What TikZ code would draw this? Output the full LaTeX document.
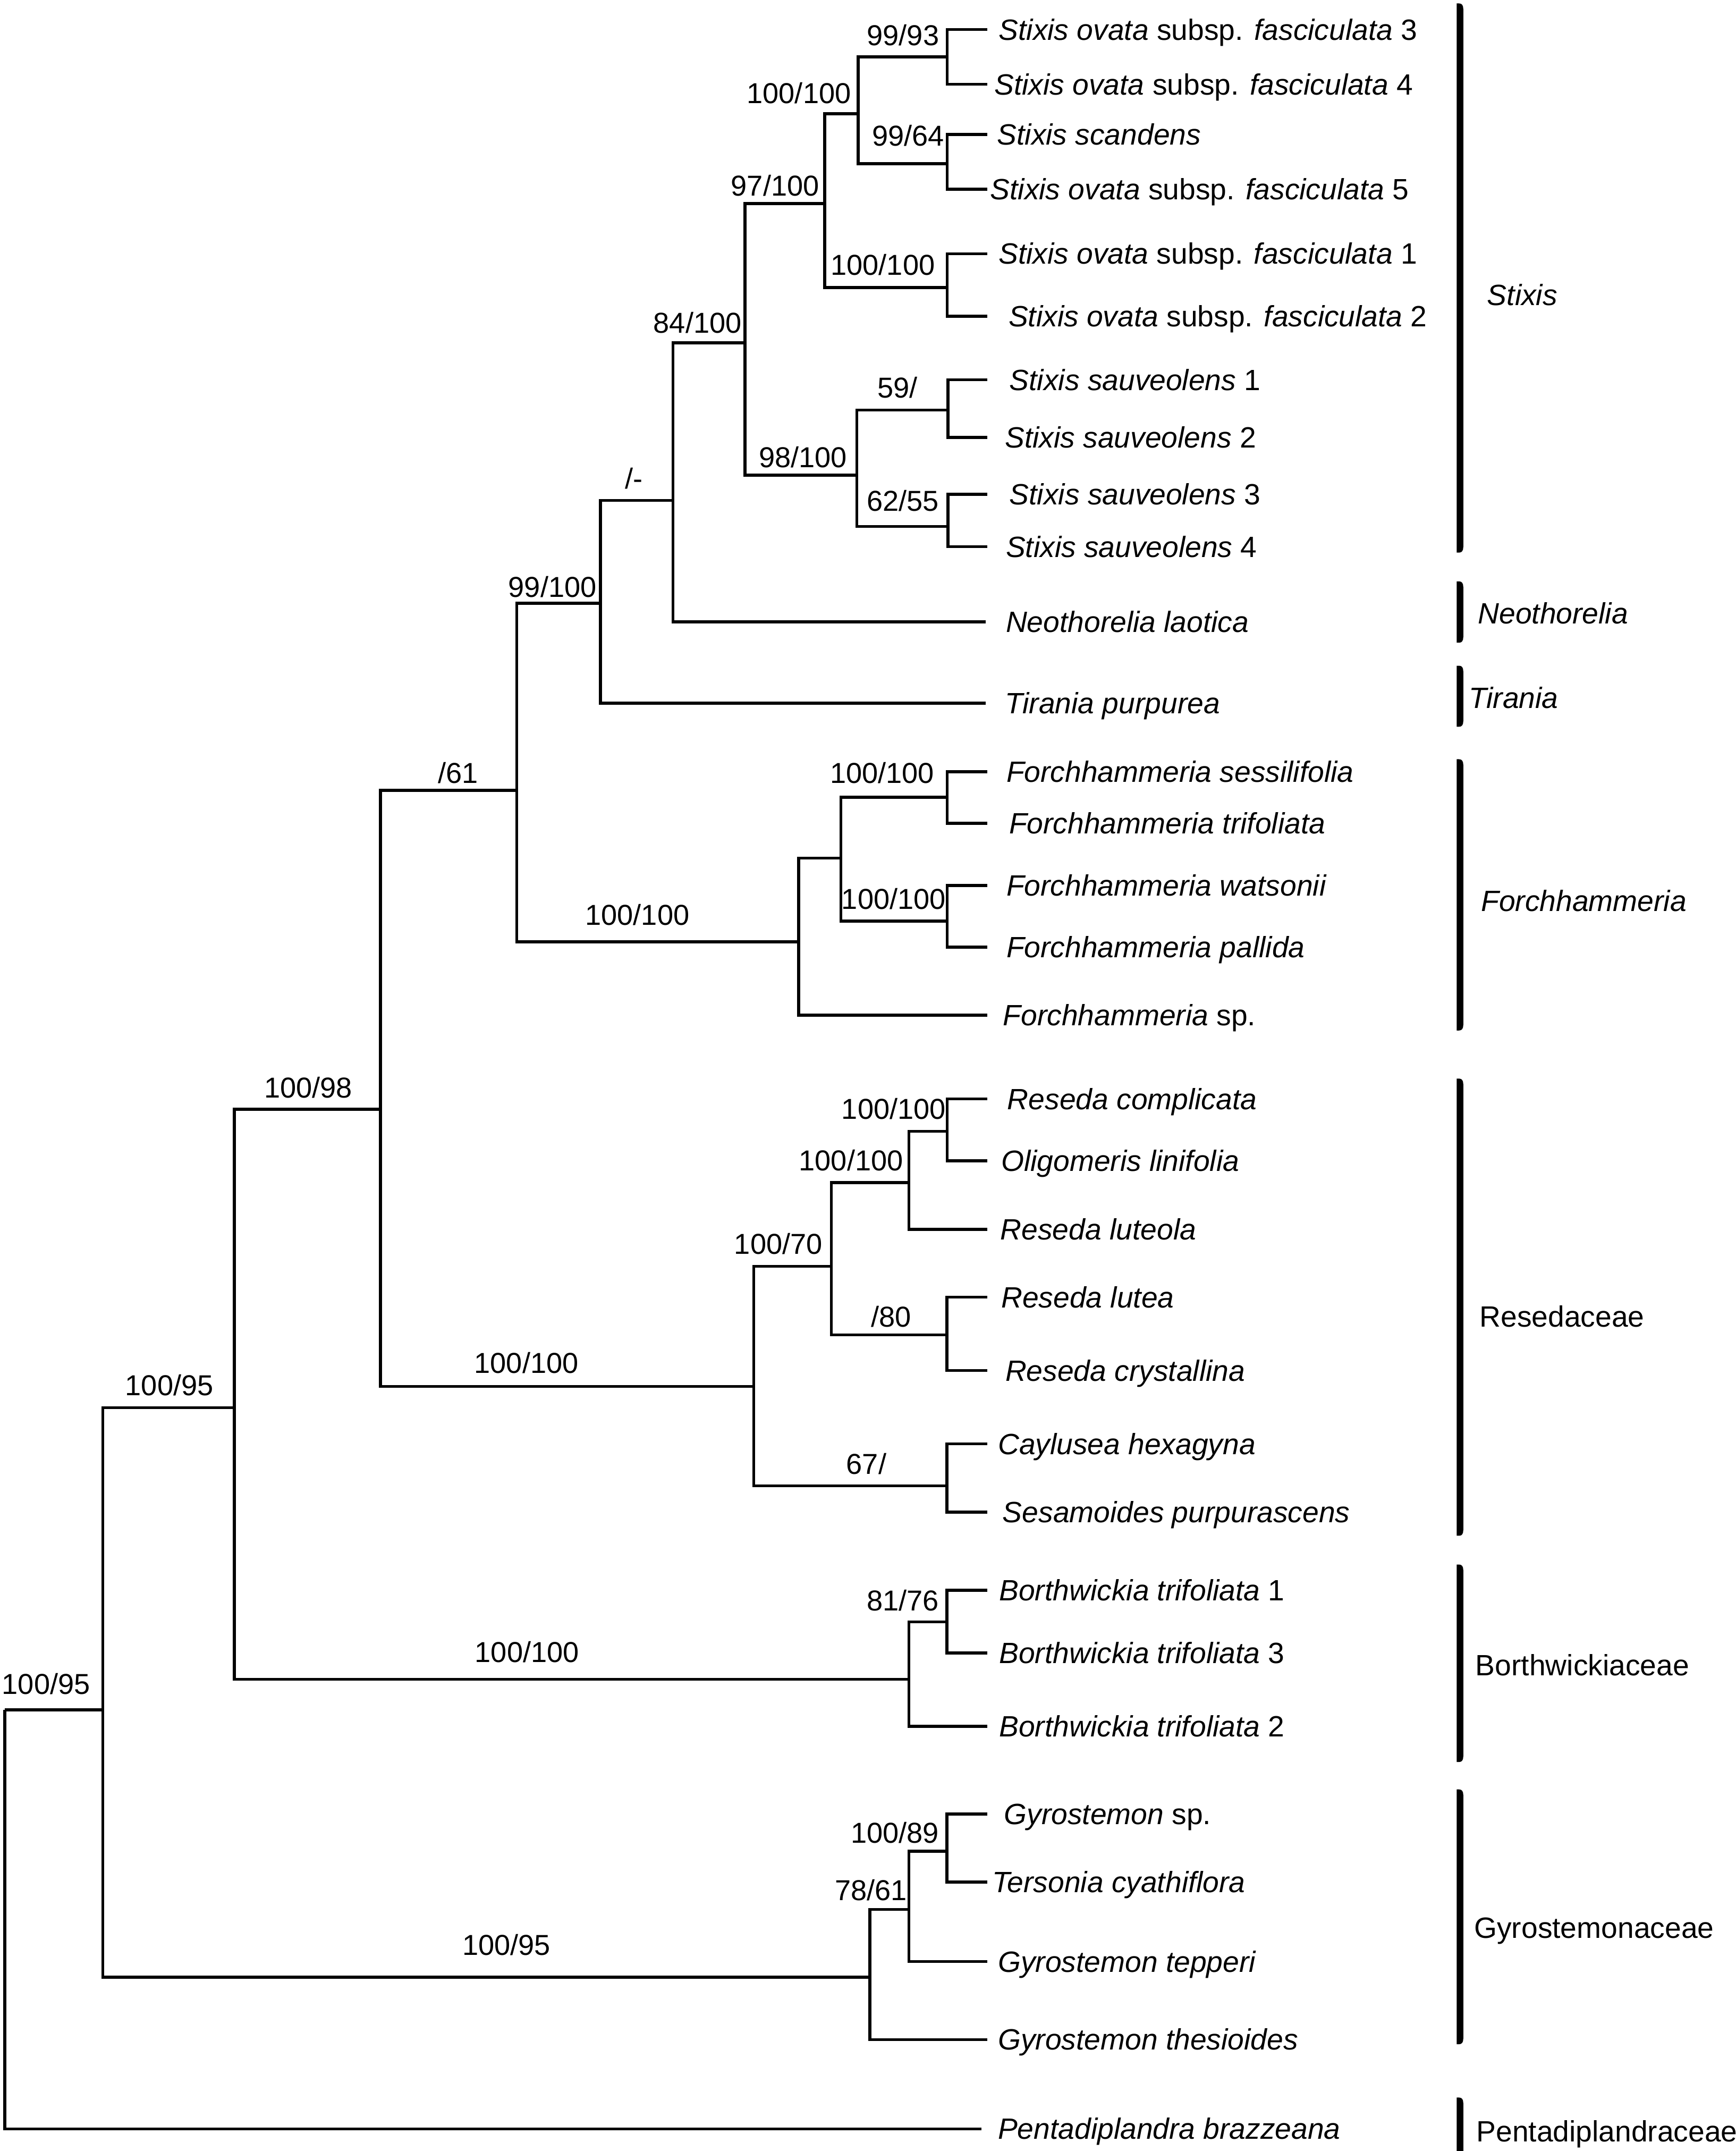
\documentclass[tikz,border=0pt]{standalone}
\usepackage{fontspec}
\setmainfont{Liberation Sans}
\newcommand\cladebar[2]{\fill (1062.6,#1) -- (1064.4,#1) .. controls (1066.4,#1) and (1067.4,#1+1.5) .. (1067.4,#1+4) -- (1067.4,#2-4) .. controls (1067.4,#2-1.5) and (1066.4,#2) .. (1064.4,#2) -- (1062.6,#2) -- cycle;}
\begin{document}
\begin{tikzpicture}[x=0.5pt,y=-0.5pt,
  br/.style={line width=1.05pt, line join=miter},
  taxon/.style={anchor=base west, inner sep=0pt, font=\fontsize{10.7}{12}\selectfont},
  supp/.style={anchor=base, inner sep=0pt, font=\fontsize{10.5}{12}\selectfont},
  clade/.style={anchor=base west, inner sep=0pt, font=\fontsize{10.7}{12}\selectfont}]
\useasboundingbox (0,0) rectangle (1266,1568.7);
% internal nodes
\coordinate (R0) at (3.5,1247);
\coordinate (A) at (75,1247);
\coordinate (B) at (171,1026.5);
\coordinate (C) at (277.6,809);
\coordinate (D) at (376.9,576.4);
\coordinate (E) at (438,440);
\coordinate (H) at (491,365);
\coordinate (I) at (543.5,250);
\coordinate (J) at (601.6,148.5);
\coordinate (L) at (626,83);
\coordinate (N1) at (691,41.5);
\coordinate (N2) at (691,119.4);
\coordinate (M) at (691,209.7);
\coordinate (K) at (625,346.5);
\coordinate (K1) at (691.5,299);
\coordinate (K2) at (691.5,384);
\coordinate (F1) at (582.6,686.8);
\coordinate (F2) at (613.3,625.7);
\coordinate (F3) at (691,581.4);
\coordinate (F4) at (691,671.7);
\coordinate (Q1) at (549.8,1011);
\coordinate (Q2) at (606.4,923.6);
\coordinate (Q3) at (663,862.5);
\coordinate (Q4) at (691,825);
\coordinate (Q6) at (690.7,973.4);
\coordinate (Q7) at (690.7,1083.5);
\coordinate (Bo1) at (663,1224.6);
\coordinate (Bo2) at (690.7,1182.7);
\coordinate (G1) at (634.6,1442);
\coordinate (G2) at (663,1392.4);
\coordinate (G3) at (690.7,1350);
% tip ends
\coordinate (e1) at (720,21.6);
\coordinate (e2) at (720,61.4);
\coordinate (e3) at (720,98);
\coordinate (e4) at (720,138);
\coordinate (e5) at (720,185);
\coordinate (e6) at (720,230.6);
\coordinate (e7) at (720,277);
\coordinate (e8) at (720,319);
\coordinate (e9) at (720,360.5);
\coordinate (e10) at (720,398.7);
\coordinate (e11) at (719,453.5);
\coordinate (e12) at (719,512.8);
\coordinate (e13) at (720,562.8);
\coordinate (e14) at (720,600.4);
\coordinate (e15) at (720,645.7);
\coordinate (e16) at (720,690.7);
\coordinate (e17) at (720,740.4);
\coordinate (e18) at (720,801.4);
\coordinate (e19) at (720,846.6);
\coordinate (e20) at (720,896.5);
\coordinate (e21) at (720,946);
\coordinate (e22) at (720,999.5);
\coordinate (e23) at (720,1053);
\coordinate (e24) at (720,1102.7);
\coordinate (e25) at (720,1159.7);
\coordinate (e26) at (720,1205.5);
\coordinate (e27) at (720,1259);
\coordinate (e28) at (720,1323);
\coordinate (e29) at (720,1372.6);
\coordinate (e30) at (720,1430.5);
\coordinate (e31) at (720,1487.4);
\coordinate (e32) at (716,1552.5);
% branches
\draw[br] (R0) |- (A); \draw[br] (R0) |- (e32);
\draw[br] (A) |- (B); \draw[br] (A) |- (G1);
\draw[br] (B) |- (C); \draw[br] (B) |- (Bo1);
\draw[br] (C) |- (D); \draw[br] (C) |- (Q1);
\draw[br] (D) |- (E); \draw[br] (D) |- (F1);
\draw[br] (E) |- (H); \draw[br] (E) |- (e12);
\draw[br] (H) |- (I); \draw[br] (H) |- (e11);
\draw[br] (I) |- (J); \draw[br] (I) |- (K);
\draw[br] (J) |- (L); \draw[br] (J) |- (M);
\draw[br] (L) |- (N1); \draw[br] (L) |- (N2);
\draw[br] (N1) |- (e1); \draw[br] (N1) |- (e2);
\draw[br] (N2) |- (e3); \draw[br] (N2) |- (e4);
\draw[br] (M) |- (e5); \draw[br] (M) |- (e6);
\draw[br] (K) |- (K1); \draw[br] (K) |- (K2);
\draw[br] (K1) |- (e7); \draw[br] (K1) |- (e8);
\draw[br] (K2) |- (e9); \draw[br] (K2) |- (e10);
\draw[br] (F1) |- (F2); \draw[br] (F1) |- (e17);
\draw[br] (F2) |- (F3); \draw[br] (F2) |- (F4);
\draw[br] (F3) |- (e13); \draw[br] (F3) |- (e14);
\draw[br] (F4) |- (e15); \draw[br] (F4) |- (e16);
\draw[br] (Q1) |- (Q2); \draw[br] (Q1) |- (Q7);
\draw[br] (Q2) |- (Q3); \draw[br] (Q2) |- (Q6);
\draw[br] (Q3) |- (Q4); \draw[br] (Q3) |- (e20);
\draw[br] (Q4) |- (e18); \draw[br] (Q4) |- (e19);
\draw[br] (Q6) |- (e21); \draw[br] (Q6) |- (e22);
\draw[br] (Q7) |- (e23); \draw[br] (Q7) |- (e24);
\draw[br] (Bo1) |- (Bo2); \draw[br] (Bo1) |- (e27);
\draw[br] (Bo2) |- (e25); \draw[br] (Bo2) |- (e26);
\draw[br] (G1) |- (G2); \draw[br] (G1) |- (e31);
\draw[br] (G2) |- (G3); \draw[br] (G2) |- (e30);
\draw[br] (G3) |- (e28); \draw[br] (G3) |- (e29);
% taxon labels
\node[taxon] (t1) at (728.2,29.2) {\textit{Stixis ovata} subsp. \textit{fasciculata} 3};
\node[taxon] (t2) at (725,69) {\textit{Stixis ovata} subsp. \textit{fasciculata} 4};
\node[taxon] (t3) at (727,105.6) {\textit{Stixis scandens}};
\node[taxon] (t4) at (722,145.6) {\textit{Stixis ovata} subsp. \textit{fasciculata} 5};
\node[taxon] (t5) at (728,192.6) {\textit{Stixis ovata} subsp. \textit{fasciculata} 1};
\node[taxon] (t6) at (735.3,238.2) {\textit{Stixis ovata} subsp. \textit{fasciculata} 2};
\node[taxon] (t7) at (736,284.6) {\textit{Stixis sauveolens} 1};
\node[taxon] (t8) at (732.7,326.6) {\textit{Stixis sauveolens} 2};
\node[taxon] (t9) at (736,368.1) {\textit{Stixis sauveolens} 3};
\node[taxon] (t10) at (733.4,406.3) {\textit{Stixis sauveolens} 4};
\node[taxon] (t11) at (733.4,461.1) {\textit{Neothorelia laotica}};
\node[taxon] (t12) at (732.7,520.4) {\textit{Tirania purpurea}};
\node[taxon] (t13) at (733.8,570.4) {\textit{Forchhammeria sessilifolia}};
\node[taxon] (t14) at (735.7,608) {\textit{Forchhammeria trifoliata}};
\node[taxon] (t15) at (733.8,653.3) {\textit{Forchhammeria watsonii}};
\node[taxon] (t16) at (733.8,698.3) {\textit{Forchhammeria pallida}};
\node[taxon] (t17) at (731.3,748) {\textit{Forchhammeria} sp.};
\node[taxon] (t18) at (734.5,809) {\textit{Reseda complicata}};
\node[taxon] (t19) at (730,854.2) {\textit{Oligomeris linifolia}};
\node[taxon] (t20) at (729.4,904.1) {\textit{Reseda luteola}};
\node[taxon] (t21) at (730,953.6) {\textit{Reseda lutea}};
\node[taxon] (t22) at (733,1007.1) {\textit{Reseda crystallina}};
\node[taxon] (t23) at (727.6,1060.6) {\textit{Caylusea hexagyna}};
\node[taxon] (t24) at (731,1110.3) {\textit{Sesamoides purpurascens}};
\node[taxon] (t25) at (728.5,1167.3) {\textit{Borthwickia trifoliata} 1};
\node[taxon] (t26) at (728.5,1213.1) {\textit{Borthwickia trifoliata} 3};
\node[taxon] (t27) at (728.5,1266.6) {\textit{Borthwickia trifoliata} 2};
\node[taxon] (t28) at (732,1330.6) {\textit{Gyrostemon} sp.};
\node[taxon] (t29) at (723.3,1380.2) {\textit{Tersonia cyathiflora}};
\node[taxon] (t30) at (727.6,1438.1) {\textit{Gyrostemon tepperi}};
\node[taxon] (t31) at (727.6,1495) {\textit{Gyrostemon thesioides}};
\node[taxon] (t32) at (727.6,1560.1) {\textit{Pentadiplandra brazzeana}};
% support values
\node[supp] (s1) at (658.7,33) {99/93};
\node[supp] (s2) at (582.8,75.3) {100/100};
\node[supp] (s3) at (662.5,106.4) {99/64};
\node[supp] (s4) at (565.4,142.7) {97/100};
\node[supp] (s5) at (644,200.7) {100/100};
\node[supp] (s6) at (508.8,243) {84/100};
\node[supp] (s7) at (654.8,290) {59/};
\node[supp] (s8) at (585.8,341) {98/100};
\node[supp] (s9) at (658.5,372.6) {62/55};
\node[supp] (s10) at (462.4,356.3) {/-};
\node[supp] (s11) at (403,435.3) {99/100};
\node[supp] (s12) at (334,571) {/61};
\node[supp] (s13) at (643.5,571) {100/100};
\node[supp] (s14) at (651.9,663) {100/100};
\node[supp] (s15) at (464.9,674.5) {100/100};
\node[supp] (s16) at (224.8,800.5) {100/98};
\node[supp] (s17) at (651.9,816) {100/100};
\node[supp] (s18) at (620.8,853.6) {100/100};
\node[supp] (s19) at (567.8,914.4) {100/70};
\node[supp] (s20) at (650.2,967.7) {/80};
\node[supp] (s21) at (632,1075) {67/};
\node[supp] (s22) at (384,1001.5) {100/100};
\node[supp] (s23) at (658.5,1174.5) {81/76};
\node[supp] (s24) at (384.4,1212.3) {100/100};
\node[supp] (s25) at (652.8,1344) {100/89};
\node[supp] (s26) at (635.4,1386) {78/61};
\node[supp] (s27) at (369.5,1426) {100/95};
\node[supp] (s28) at (33.6,1235.5) {100/95};
\node[supp] (s29) at (123.5,1017.5) {100/95};
% clade bars
\cladebar{2.5}{403}
\cladebar{424}{468.7}
\cladebar{485.5}{530}
\cladebar{553.7}{751.5}
\cladebar{786.6}{1120}
\cladebar{1141}{1285}
\cladebar{1305}{1490.8}
\cladebar{1529.7}{1580}
% clade names
\node[clade] (c1) at (1084.5,222.6) {\textit{Stixis}};
\node[clade] (c2) at (1077.8,455) {\textit{Neothorelia}};
\node[clade] (c3) at (1071,516.6) {\textit{Tirania}};
\node[clade] (c4) at (1080,664.6) {\textit{Forchhammeria}};
\node[clade] (c5) at (1079,967.8) {Resedaceae};
\node[clade] (c6) at (1076,1221.8) {Borthwickiaceae};
\node[clade] (c7) at (1075,1413.5) {Gyrostemonaceae};
\node[clade] (c8) at (1076.6,1562) {Pentadiplandraceae};
\end{tikzpicture}
\end{document}
